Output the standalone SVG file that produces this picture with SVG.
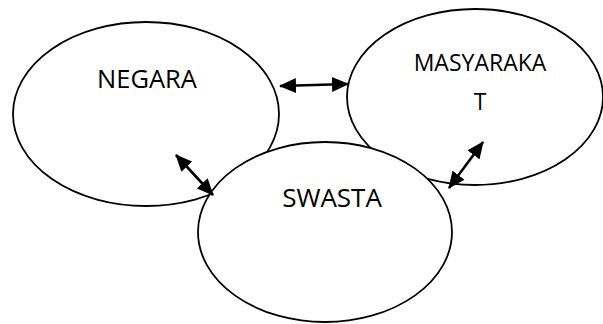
<svg xmlns="http://www.w3.org/2000/svg" width="603" height="324" viewBox="0 0 603 324">
<style>
.node{fill:#fff;stroke:#000;stroke-width:1.8}
.lbl{font-family:"Open Sans","Liberation Sans",sans-serif;fill:#000;text-anchor:middle}
.con{stroke:#000;stroke-width:2.6;fill:none;marker-start:url(#ah);marker-end:url(#ah)}
</style>
<defs>
<marker id="ah" markerUnits="userSpaceOnUse" markerWidth="17" markerHeight="15" refX="16" refY="7.5" orient="auto-start-reverse" viewBox="0 0 17 15">
<path d="M0,0 L17,7.5 L0,15 Z" fill="#000"/>
</marker>
</defs>
<rect width="603" height="324" fill="#fff"/>
<g id="negara">
<ellipse class="node" cx="146" cy="114" rx="133" ry="92"/>
<text class="lbl" x="147" y="88" font-size="25.5">NEGARA</text>
</g>
<g id="masyarakat">
<ellipse class="node" cx="475" cy="97" rx="128" ry="88"/>
<text class="lbl" x="480" y="71" font-size="23">MASYARAKA</text>
<text class="lbl" x="480" y="110" font-size="23">T</text>
</g>
<g id="swasta">
<ellipse class="node" cx="325" cy="232" rx="127" ry="90"/>
<text class="lbl" x="332" y="207" font-size="26">SWASTA</text>
</g>
<g id="connectors">
<line class="con" x1="280" y1="86" x2="348" y2="84"/>
<line class="con" x1="176" y1="155" x2="213" y2="195"/>
<line class="con" x1="483" y1="142" x2="449" y2="188"/>
</g>
</svg>
